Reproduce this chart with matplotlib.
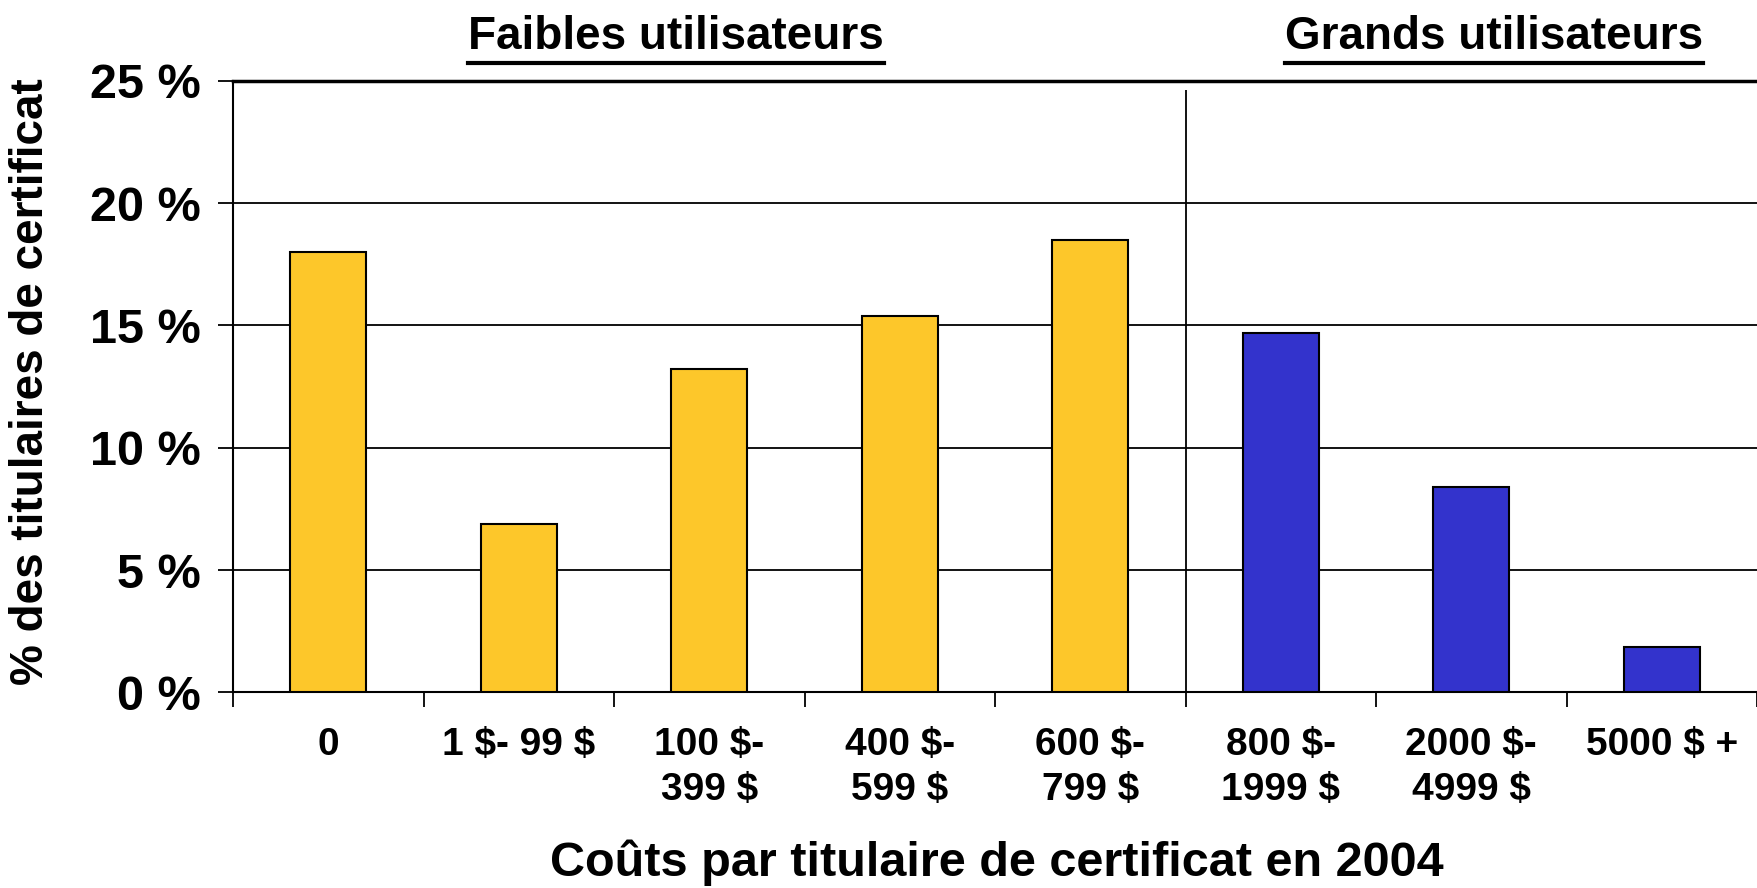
import numpy as np
import matplotlib
matplotlib.use('Agg')
import matplotlib.pyplot as plt

plt.rcParams['font.family'] = ['Liberation Sans', 'DejaVu Sans']
plt.rcParams['font.weight'] = 'bold'
plt.rcParams['text.parse_math'] = False

categories = ['0', '1 $- 99 $', '100 $-\n399 $', '400 $-\n599 $', '600 $-\n799 $',
              '800 $-\n1999 $', '2000 $-\n4999 $', '5000 $ +']
values = [18.0, 6.9, 13.2, 15.4, 18.5, 14.7, 8.4, 1.85]
groups = ['low', 'low', 'low', 'low', 'low', 'high', 'high', 'high']
group_titles = ['Faibles utilisateurs', 'Grands utilisateurs']
yticks = [0, 5, 10, 15, 20, 25]

colors = {'low': '#FDC72A', 'high': '#3333CC'}

fig = plt.figure(figsize=(17.57, 8.88), dpi=100)
ax = fig.add_axes([233 / 1757, 1 - 692.5 / 888, 1 - 233 / 1757, (692.5 - 80.7) / 888])

x = np.arange(len(categories))
ax.bar(x, values, width=0.4, color=[colors[g] for g in groups],
       edgecolor='black', linewidth=1.5, zorder=3)

ax.set_xlim(-0.5, len(categories) - 0.5)
ax.set_ylim(0, 25)

# horizontal grid
ax.set_yticks(yticks)
ax.set_yticklabels([f'{v} %' for v in yticks], fontsize=35, fontweight='bold')
ax.yaxis.grid(True, color='black', linewidth=1.3, zorder=1)
ax.tick_params(axis='y', length=11, width=1.3, pad=12)

# category boundaries as tick marks, labels at centres
ax.set_xticks(np.arange(len(categories) + 1) - 0.5)
ax.set_xticklabels([])
ax.tick_params(axis='x', which='major', length=11, width=1.3)
ax.set_xticks(x, minor=True)
ax.set_xticklabels(categories, minor=True, fontsize=28, fontweight='bold',
                   linespacing=1.3)
ax.tick_params(axis='x', which='minor', length=0, pad=25)

for s in ['left', 'bottom']:
    ax.spines[s].set_linewidth(1.5)
ax.spines['right'].set_visible(False)
ax.spines['top'].set_linewidth(2.5)

# separator between the two groups
ax.vlines(4.5, 0, 24.6, color='black', linewidth=1.3, zorder=2)

fig.text(997 / 1757, 1 - 863 / 888, 'Coûts par titulaire de certificat en 2004',
         ha='center', va='center', fontsize=35, fontweight='bold')
fig.text(31 / 1757, 1 - 382 / 888, '% des titulaires de certificat', rotation=90,
         ha='center', va='center', fontsize=33, fontweight='bold')

# underlined group headers
fig.canvas.draw()
renderer = fig.canvas.get_renderer()
for title, xc in zip(group_titles, [676, 1494]):
    t = fig.text(xc / 1757, 1 - 37 / 888, title, ha='center', va='center',
                 fontsize=33, fontweight='bold')
    bb = t.get_window_extent(renderer).transformed(fig.transFigure.inverted())
    fig.add_artist(plt.Line2D([bb.x0, bb.x1], [bb.y0 - 0.005, bb.y0 - 0.005],
                              transform=fig.transFigure, color='black', linewidth=3))

fig.savefig('out.png', dpi=100)
